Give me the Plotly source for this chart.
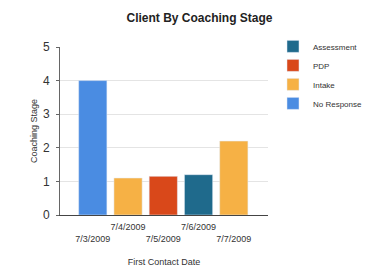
import plotly.graph_objects as go

dates = ["7/3/2009", "7/4/2009", "7/5/2009", "7/6/2009", "7/7/2009"]
assessment_x = ["7/6/2009"]
assessment_y = [1.2]
pdp_x = ["7/5/2009"]
pdp_y = [1.15]
intake_x = ["7/4/2009", "7/7/2009"]
intake_y = [1.1, 2.2]
noresp_x = ["7/3/2009"]
noresp_y = [4.0]
tick_text = ["<br>7/3/2009", "7/4/2009", "<br>7/5/2009", "7/6/2009", "<br>7/7/2009"]

colors = {"Assessment": "#1f6a8c", "PDP": "#d9481a", "Intake": "#f6b145", "No Response": "#4a8ce2"}

fig = go.Figure()
for name, xs, ys in [("Assessment", assessment_x, assessment_y),
                     ("PDP", pdp_x, pdp_y),
                     ("Intake", intake_x, intake_y),
                     ("No Response", noresp_x, noresp_y)]:
    fig.add_trace(go.Bar(x=xs, y=ys, name=name, marker_color=colors[name], width=0.8))

fig.update_layout(
    width=383, height=278,
    margin=dict(l=52, r=123, t=39, b=71, autoexpand=False),
    paper_bgcolor="white", plot_bgcolor="white",
    barmode="overlay",
    font=dict(family="Liberation Sans, Arial", color="#333"),
    title=dict(text="<b>Client By Coaching Stage</b>", x=0.5, xanchor="center", y=0.965, yanchor="middle",
               font=dict(size=12, color="#222")),
    legend=dict(x=1.024, y=1.09, xanchor="left", yanchor="top", font=dict(size=8),
                itemwidth=30, tracegroupgap=0, bgcolor="rgba(0,0,0,0)"),
    showlegend=True,
)
fig.update_xaxes(type="category", categoryorder="array", categoryarray=dates,
                 range=[-0.93, 4.97],
                 tickvals=dates, ticktext=tick_text, tickangle=0, automargin=False,
                 tickfont=dict(size=9), ticklabelstandoff=3,
                 showline=True, linecolor="#444", linewidth=1,
                 title=dict(text="First Contact Date", font=dict(size=9), standoff=16))
fig.update_yaxes(range=[0, 5], dtick=1, tickfont=dict(size=12), showline=True, linecolor="#666",
                 showgrid=True, gridcolor="#e4e4e4", zeroline=False, automargin=False,
                 ticks="outside", ticklen=3, tickcolor="#666", ticklabelstandoff=4,
                 title=dict(text="Coaching Stage", font=dict(size=9), standoff=3))

fig.write_html("out.html")
